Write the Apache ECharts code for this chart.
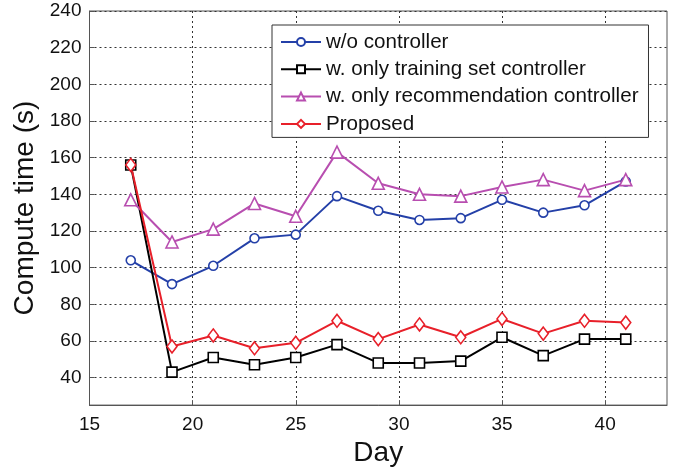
<!DOCTYPE html>
<html>
<head>
<meta charset="utf-8">
<script src="https://cdn.jsdelivr.net/npm/echarts@6/dist/echarts.min.js"></script>
<style>
  html, body { margin: 0; padding: 0; background: #fff; }
  #chart { width: 682px; height: 472px; }
</style>
</head>
<body>
<div id="chart"></div>
<script>
// Days on which compute time was measured
const days = [17, 19, 21, 23, 25, 27, 29, 31, 33, 35, 37, 39, 41];

// Compute time (s) per configuration
const woController = [104, 91, 101, 116, 118, 139, 131, 126, 127, 137, 130, 134, 147];
const trainingOnly = [156, 43, 51, 47, 51, 58, 48, 48, 49, 62, 52, 61, 61];
const recommendationOnly = [137, 114, 121, 135, 128, 163, 146, 140, 139, 144, 148, 142, 148];
const proposed = [156, 57, 63, 56, 59, 71, 61, 69, 62, 72, 64, 71, 70];

// Tick labels
const xTicks = [15, 20, 25, 30, 35, 40];
const yTicks = [40, 60, 80, 100, 120, 140, 160, 180, 200, 220, 240];

const FONT = 'Liberation Sans, Arial, sans-serif';

function pairs(ys) {
  return days.map((d, i) => [d, ys[i]]);
}

function lineSeries(name, ys, color, symbol, size) {
  return {
    name: name,
    type: 'line',
    data: pairs(ys),
    symbol: symbol,
    symbolSize: size,
    showAllSymbol: true,
    lineStyle: { color: color, width: 2 },
    itemStyle: { color: '#fff', borderColor: color, borderWidth: 1.6 },
    emphasis: { disabled: true },
    animation: false
  };
}

const chart = echarts.init(document.getElementById('chart'), null, { renderer: 'canvas' });

chart.setOption({
  backgroundColor: '#fff',
  animation: false,
  grid: {
    left: 89.5, right: 15, top: 11, bottom: 61,
    show: true, borderColor: '#555', borderWidth: 1, backgroundColor: 'transparent'
  },
  legend: {
    left: 272, top: 25,
    orient: 'vertical',
    itemWidth: 40, itemHeight: 10, itemGap: 6.3,
    padding: [6.5, 10, 3, 8],
    backgroundColor: '#fff',
    borderColor: '#333', borderWidth: 1,
    textStyle: { fontFamily: FONT, fontSize: 20.6, color: '#111' },
    data: ['w/o controller', 'w. only training set controller', 'w. only recommendation controller', 'Proposed']
  },
  xAxis: {
    type: 'value',
    min: 15, max: 43,
    name: 'Day', nameLocation: 'middle', nameGap: 31,
    nameTextStyle: { fontFamily: FONT, fontSize: 28, color: '#111', verticalAlign: 'top' },
    axisLine: { show: true, lineStyle: { color: '#555', width: 1 } },
    axisTick: { show: true, inside: true, length: 5, customValues: xTicks, lineStyle: { color: '#555' } },
    axisLabel: { customValues: xTicks, fontFamily: FONT, fontSize: 19, color: '#111', margin: 10 },
    splitLine: { show: true, lineStyle: { color: '#333', type: [2, 3], width: 1 } }
  },
  yAxis: {
    type: 'value',
    min: 25, max: 240,
    name: 'Compute time (s)', nameLocation: 'middle', nameGap: 46,
    nameTextStyle: { fontFamily: FONT, fontSize: 28, color: '#111' },
    axisLine: { show: true, lineStyle: { color: '#555', width: 1 } },
    axisTick: { show: true, inside: true, length: 5, customValues: yTicks, lineStyle: { color: '#555' } },
    axisLabel: { customValues: yTicks, fontFamily: FONT, fontSize: 19, color: '#111', margin: 8 },
    splitLine: { show: true, lineStyle: { color: '#333', type: [2, 3], width: 1 } }
  },
  series: [
    lineSeries('w/o controller', woController, '#2440a8', 'circle', 9),
    lineSeries('w. only training set controller', trainingOnly, '#000000', 'rect', 10),
    lineSeries('w. only recommendation controller', recommendationOnly, '#b84eb0', 'triangle', 12),
    lineSeries('Proposed', proposed, '#e8202a', 'diamond', [10, 13])
  ]
});
</script>
</body>
</html>
